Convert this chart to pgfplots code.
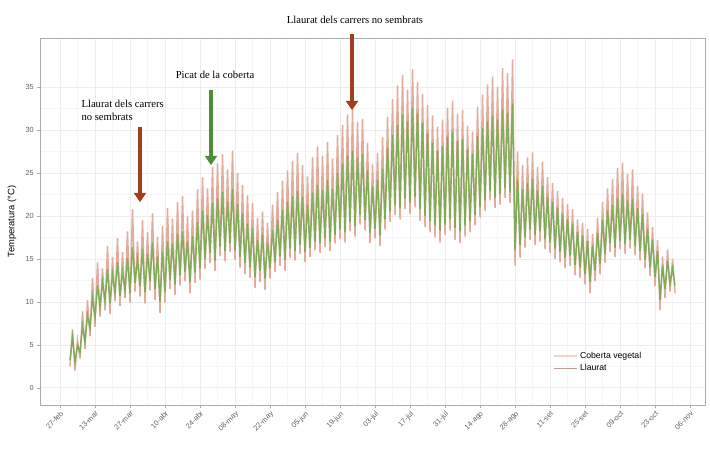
\documentclass[border=0pt]{standalone}
\usepackage{pgfplots}
\pgfplotsset{compat=1.18}
\usepackage{pgfplotstable}
\usetikzlibrary{arrows.meta}
\usepackage{fontspec}
\setmainfont{Liberation Sans}
\newfontfamily\serif{Liberation Serif}
\definecolor{cpink}{RGB}{226,172,156}
\definecolor{cgreen}{RGB}{112,170,76}
\definecolor{legA}{RGB}{238,212,202}
\definecolor{legB}{RGB}{188,160,146}
\definecolor{arrred}{RGB}{160,62,30}
\definecolor{arrgreen}{RGB}{78,140,58}
\pgfplotstableread{
d c l
4 2.5 3.2
5 6.8 5.9
6 2.0 3.0
7 5.5 5.0
8 3.4 4.1
9 8.9 7.2
10 4.5 5.3
11 10.2 8.4
12 6.0 6.9
13 12.8 10.5
14 7.1 8.2
15 14.6 11.9
16 8.3 9.4
17 13.9 12.3
18 9.0 10.1
19 16.5 13.8
20 8.6 9.8
21 15.2 13.2
22 10.1 11.0
23 17.4 14.6
24 9.5 10.7
25 15.8 13.5
26 10.4 11.3
27 18.2 15.1
28 9.9 11.0
29 20.8 16.4
30 11.2 12.2
31 17.0 14.9
32 10.6 11.8
33 19.5 16.2
34 9.8 11.1
35 18.1 15.6
36 11.3 12.4
37 20.3 16.9
38 10.2 11.5
39 17.6 15.3
40 8.7 10.0
41 18.8 15.8
42 9.9 11.2
43 20.9 17.1
44 11.5 12.6
45 19.7 16.8
46 10.8 12.0
47 21.6 17.9
48 11.9 13.1
49 22.3 18.2
50 12.4 13.5
51 19.9 17.0
52 11.0 12.3
53 20.6 17.6
54 12.2 13.4
55 23.1 19.3
56 12.6 13.9
57 24.5 20.6
58 13.8 15.0
59 23.2 20.1
60 14.5 15.7
61 25.7 21.5
62 13.6 14.8
63 26.1 22.0
64 15.3 16.4
65 27.2 22.8
66 14.7 15.9
67 25.4 21.7
68 15.8 16.8
69 27.6 23.1
70 14.9 16.0
71 25.0 21.4
72 14.0 15.2
73 23.6 20.3
74 13.2 14.5
75 22.4 19.1
76 12.8 14.0
77 21.5 18.6
78 11.6 12.9
79 19.8 17.2
80 12.3 13.6
81 20.5 17.8
82 11.4 12.7
83 19.2 16.9
84 12.7 13.9
85 21.3 18.4
86 13.5 14.6
87 22.8 19.5
88 14.2 15.3
89 24.1 20.7
90 13.6 14.9
91 25.3 21.6
92 15.1 16.2
93 26.4 22.3
94 14.8 15.9
95 27.3 22.9
96 15.6 16.6
97 25.9 22.2
98 14.6 15.8
99 24.6 21.3
100 15.2 16.3
101 26.8 22.7
102 16.0 17.0
103 28.1 23.6
104 15.7 16.8
105 27.0 23.0
106 16.4 17.4
107 28.6 24.2
108 15.9 17.0
109 26.7 23.1
110 16.8 17.8
111 29.4 25.0
112 17.3 18.4
113 30.6 26.1
114 16.9 18.1
115 31.8 27.0
116 18.2 19.3
117 32.4 27.6
118 17.6 18.8
119 30.9 26.8
120 19.0 20.1
121 31.3 27.2
122 18.3 19.5
123 28.5 25.3
124 16.8 18.0
125 26.0 23.4
126 17.4 18.5
127 27.3 24.2
128 16.5 17.7
129 29.2 25.5
130 18.4 19.6
131 31.5 27.9
132 19.3 20.5
133 33.6 29.4
134 20.1 21.3
135 35.2 30.6
136 19.6 20.9
137 36.4 31.8
138 20.8 22.0
139 34.7 31.0
140 20.2 21.5
141 37.1 32.6
142 21.0 22.2
143 35.6 31.9
144 19.4 20.8
145 34.2 30.8
146 18.7 20.0
147 32.9 29.6
148 18.1 19.4
149 31.7 28.5
150 17.5 18.9
151 30.4 27.6
152 16.9 18.3
153 31.2 28.1
154 17.8 19.0
155 32.6 29.2
156 18.3 19.6
157 33.4 29.8
158 17.2 18.6
159 31.9 28.7
160 16.8 18.2
161 32.3 28.9
162 17.6 18.9
163 30.5 27.8
164 18.1 19.4
165 29.8 27.2
166 18.9 20.1
167 32.7 29.3
168 19.8 21.0
169 34.1 30.2
170 20.6 21.8
171 35.3 31.0
172 21.8 22.9
173 36.2 31.7
174 20.9 22.1
175 35.0 31.2
176 21.3 22.5
177 37.2 32.4
178 22.1 23.2
179 36.6 32.0
180 21.5 22.7
181 38.2 33.1
182 14.2 16.0
183 27.5 24.2
184 15.1 16.6
185 25.9 23.1
186 16.3 17.5
187 26.8 23.8
188 17.2 18.4
189 27.4 24.3
190 16.6 17.8
191 25.7 23.0
192 17.0 18.2
193 26.3 23.5
194 16.1 17.3
195 24.5 22.2
196 15.7 16.9
197 23.8 21.6
198 15.0 16.2
199 22.9 20.9
200 14.6 15.8
201 22.1 20.2
202 13.9 15.1
203 21.4 19.6
204 14.2 15.4
205 20.8 19.0
206 13.1 14.3
207 19.6 18.1
208 12.8 14.0
209 19.2 17.7
210 12.0 13.2
211 18.5 17.1
212 11.0 12.3
213 17.9 16.6
214 12.4 13.6
215 19.8 18.0
216 13.2 14.4
217 21.6 19.5
218 14.5 15.6
219 23.2 20.6
220 15.8 16.8
221 24.3 21.3
222 15.2 16.3
223 25.6 22.1
224 16.1 17.1
225 26.2 22.5
226 15.6 16.7
227 24.9 21.8
228 16.2 17.2
229 25.4 22.0
230 15.4 16.5
231 23.5 20.9
232 14.8 15.9
233 22.6 20.2
234 13.9 14.9
235 20.4 18.5
236 13.0 14.0
237 18.7 17.2
238 11.8 12.9
239 17.2 15.9
240 9.0 10.2
241 15.3 14.2
242 10.4 11.5
243 16.1 14.8
244 11.2 12.1
245 15.0 13.9
246 11.0 11.9
}\datatab
\begin{document}
\begin{tikzpicture}
\useasboundingbox (0,0) rectangle (532.5pt,342.75pt);
\begin{axis}[
  at={(30pt,39pt)}, anchor=south west,
  scale only axis, width=498.75pt, height=275.25pt,
  xmin=-8, xmax=258, ymin=-2, ymax=40.7,
  xtick={0,14,...,252},
  xticklabels={27-feb,13-mar,27-mar,10-abr,24-abr,08-may,22-may,05-jun,19-jun,03-jul,17-jul,31-jul,14-ago,28-ago,11-set,25-set,09-oct,23-oct,06-nov},
  ytick={0,5,...,35},
  minor x tick num=1, minor y tick num=1,
  grid=both,
  major grid style={draw=gray!14, line width=0.5pt},
  minor grid style={draw=gray!7, line width=0.3pt},
  axis line style={draw=gray!65},
  tick style={draw=gray!65},
  minor tick length=0pt,
  major tick length=2.5pt,
  tick align=outside,
  xtick pos=bottom, ytick pos=left,
  /pgf/number format/assume math mode=true,
  tick label style={font=\fontsize{5.5}{6.5}\selectfont, text=gray!75!black},
  xticklabel style={rotate=45, anchor=north east, inner sep=1pt},
  yticklabel style={inner sep=2pt},
  ylabel={Temperatura (°C)},
  ylabel style={font=\fontsize{7}{8}\selectfont, at={(axis description cs:-0.042,0.5)}, anchor=center},
  clip=false,
  legend style={at={(0.765,0.16)}, anchor=north west, draw=none, fill=none,
    font=\fontsize{6.5}{7.5}\selectfont, row sep=-1pt},
  legend cell align=left,
]
\addplot[color=cpink, line width=1.1pt, forget plot] table[x=d, y=c] {\datatab};
\addplot[color=cgreen, line width=1.1pt, opacity=0.85, forget plot] table[x=d, y=l] {\datatab};
\addlegendimage{color=legA, line width=1.2pt}
\addlegendentry{Coberta vegetal}
\addlegendimage{color=legB, line width=1.2pt}
\addlegendentry{Llaurat}
% annotations
\draw[arrred, line width=3pt, -{Triangle[length=7pt,width=9pt]}] (axis cs:32,30.3) -- (axis cs:32,21.6);
\node[anchor=west, align=left, font=\serif\fontsize{8}{9.5}\selectfont, inner sep=0pt] at (axis cs:8.5,32.3) {Llaurat dels carrers\\no sembrats};
\draw[arrgreen, line width=3pt, -{Triangle[length=7pt,width=9pt]}] (axis cs:60.4,34.7) -- (axis cs:60.4,25.9);
\node[font=\serif\fontsize{8}{9.5}\selectfont, inner sep=0pt] at (axis cs:62,36.4) {Picat de la coberta};
\draw[arrred, line width=3pt, -{Triangle[length=7pt,width=9pt]}] (axis cs:116.8,41.2) -- (axis cs:116.8,32.3);
\node[font=\serif\fontsize{8}{9.5}\selectfont, inner sep=0pt] at (axis cs:118,42.8) {Llaurat dels carrers no sembrats};
\end{axis}
\end{tikzpicture}
\end{document}
